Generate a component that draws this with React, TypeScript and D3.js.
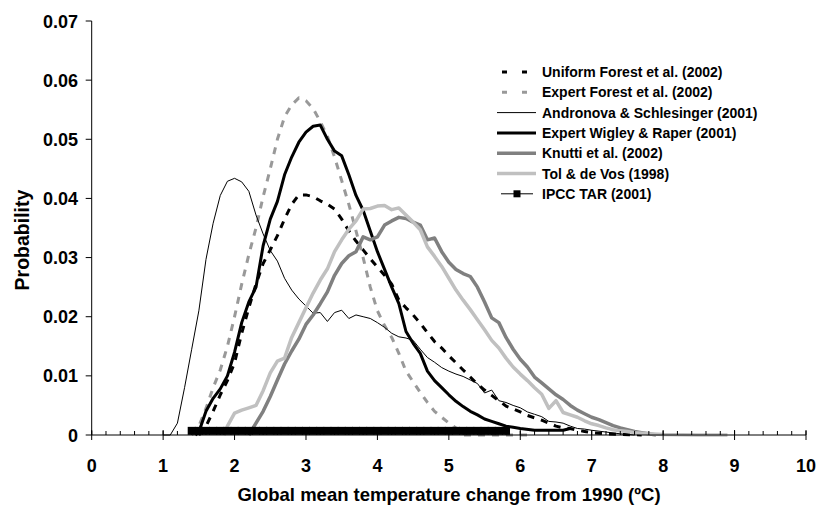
import React, { useRef, useEffect } from 'react';
import * as d3 from 'd3';

// [temperature change (ºC), probability]
const uniformForest = [
  [1.5, 0], [1.6, 0.0015], [1.7, 0.004], [1.8, 0.0068], [1.9, 0.0092], [2.0, 0.0122], [2.1, 0.0172],
  [2.2, 0.0215], [2.3, 0.0255], [2.4, 0.029], [2.5, 0.0313], [2.6, 0.0337], [2.7, 0.0365], [2.8, 0.039],
  [2.9, 0.0406], [3.0, 0.0406], [3.1, 0.0403], [3.2, 0.0396], [3.3, 0.039], [3.4, 0.0382], [3.5, 0.0365],
  [3.6, 0.0345], [3.7, 0.0328], [3.8, 0.0313], [3.9, 0.0298], [4.0, 0.0284], [4.1, 0.027], [4.2, 0.0255],
  [4.3, 0.0228], [4.4, 0.0215], [4.5, 0.0203], [4.6, 0.0189], [4.7, 0.0173], [4.8, 0.0158], [4.9, 0.0147],
  [5.0, 0.0134], [5.1, 0.0122], [5.2, 0.011], [5.3, 0.0098], [5.4, 0.0086], [5.5, 0.0076], [5.6, 0.0067],
  [5.7, 0.0058], [5.8, 0.0049], [5.9, 0.0044], [6.0, 0.0039], [6.1, 0.0033], [6.2, 0.0029], [6.3, 0.0025],
  [6.4, 0.002], [6.5, 0.0015], [6.6, 0.0012], [6.7, 0.0011], [6.8, 0.0008], [6.9, 0.0006], [7.0, 0.0004],
  [7.2, 0.0002], [7.4, 0.0001], [7.7, 0]
];

const expertForest = [
  [1.4, 0], [1.5, 0.0015], [1.6, 0.0045], [1.7, 0.008], [1.8, 0.011], [1.9, 0.015], [2.0, 0.02],
  [2.1, 0.0255], [2.2, 0.0305], [2.3, 0.035], [2.4, 0.0403], [2.5, 0.045], [2.6, 0.05], [2.7, 0.0538],
  [2.8, 0.0558], [2.9, 0.057], [3.0, 0.0565], [3.1, 0.0552], [3.2, 0.053], [3.3, 0.0505], [3.4, 0.047],
  [3.5, 0.043], [3.6, 0.039], [3.7, 0.0345], [3.8, 0.03], [3.9, 0.025], [4.0, 0.021], [4.1, 0.0185],
  [4.2, 0.0165], [4.3, 0.0138], [4.4, 0.0108], [4.5, 0.009], [4.6, 0.0072], [4.7, 0.0055], [4.8, 0.004],
  [4.9, 0.003], [5.0, 0.002], [5.1, 0.0012], [5.2, 0], [6.1, 0]
];

const andronova = [
  [1.0, 0], [1.1, 0], [1.2, 0.002], [1.3, 0.008], [1.4, 0.0145], [1.5, 0.021], [1.6, 0.0297], [1.7, 0.0358],
  [1.8, 0.0405], [1.9, 0.0429], [2.0, 0.0434], [2.1, 0.0428], [2.2, 0.0412], [2.3, 0.0372], [2.4, 0.034],
  [2.5, 0.0312], [2.6, 0.0294], [2.7, 0.0265], [2.8, 0.0245], [2.9, 0.023], [3.0, 0.0218], [3.1, 0.0206],
  [3.2, 0.0207], [3.3, 0.0192], [3.4, 0.0207], [3.5, 0.0211], [3.6, 0.0197], [3.7, 0.0203], [3.8, 0.02],
  [3.9, 0.0197], [4.0, 0.019], [4.1, 0.0182], [4.2, 0.0172], [4.3, 0.0166], [4.4, 0.0164], [4.5, 0.016],
  [4.6, 0.0145], [4.7, 0.0131], [4.8, 0.0123], [4.9, 0.0114], [5.0, 0.0108], [5.1, 0.0103], [5.2, 0.0099],
  [5.3, 0.0093], [5.4, 0.0087], [5.5, 0.0071], [5.6, 0.0076], [5.7, 0.0058], [5.8, 0.0055], [5.9, 0.005],
  [6.0, 0.0046], [6.1, 0.0039], [6.2, 0.0035], [6.3, 0.0031], [6.4, 0.0023], [6.5, 0.0022], [6.6, 0.002],
  [6.7, 0.0015], [6.8, 0.0011], [6.9, 0.001], [7.0, 0.0008], [7.2, 0.0005], [7.4, 0.0002], [7.6, 0]
];

const wigleyRaper = [
  [1.45, 0], [1.5, 0.0005], [1.6, 0.004], [1.7, 0.0062], [1.8, 0.0078], [1.9, 0.01], [2.0, 0.014],
  [2.1, 0.019], [2.2, 0.0225], [2.3, 0.025], [2.4, 0.032], [2.5, 0.0365], [2.6, 0.0395], [2.7, 0.044],
  [2.8, 0.047], [2.9, 0.0495], [3.0, 0.0512], [3.1, 0.0522], [3.2, 0.0524], [3.3, 0.05], [3.4, 0.048],
  [3.5, 0.0472], [3.6, 0.044], [3.7, 0.0405], [3.8, 0.038], [3.9, 0.0345], [4.0, 0.031], [4.1, 0.028],
  [4.2, 0.025], [4.3, 0.0222], [4.4, 0.0175], [4.5, 0.0155], [4.6, 0.0138], [4.7, 0.0108], [4.8, 0.0092],
  [4.9, 0.008], [5.0, 0.0068], [5.1, 0.0057], [5.2, 0.0048], [5.3, 0.004], [5.4, 0.0034], [5.5, 0.0027],
  [5.6, 0.0023], [5.7, 0.0019], [5.8, 0.0015], [5.9, 0.0013], [6.0, 0.0011], [6.2, 0.0008], [6.4, 0.0008],
  [6.6, 0.0008], [6.7, 0.0011]
];

const knutti = [
  [2.2, 0], [2.3, 0.002], [2.4, 0.004], [2.5, 0.0065], [2.6, 0.0093], [2.7, 0.012], [2.8, 0.0142],
  [2.9, 0.0162], [3.0, 0.0187], [3.1, 0.0203], [3.2, 0.0222], [3.3, 0.0242], [3.4, 0.027], [3.5, 0.029],
  [3.6, 0.0303], [3.7, 0.031], [3.8, 0.0335], [3.9, 0.033], [4.0, 0.0335], [4.1, 0.0355], [4.2, 0.0362],
  [4.3, 0.0368], [4.4, 0.0366], [4.5, 0.036], [4.6, 0.0355], [4.7, 0.033], [4.8, 0.0333], [4.9, 0.031],
  [5.0, 0.0292], [5.1, 0.028], [5.2, 0.0273], [5.3, 0.0268], [5.4, 0.025], [5.5, 0.0225], [5.6, 0.0198],
  [5.7, 0.019], [5.8, 0.0165], [5.9, 0.0145], [6.0, 0.0128], [6.1, 0.0115], [6.2, 0.0098], [6.3, 0.0088],
  [6.4, 0.0078], [6.5, 0.0068], [6.6, 0.006], [6.7, 0.005], [6.8, 0.0042], [6.9, 0.0036], [7.0, 0.003],
  [7.1, 0.0026], [7.2, 0.0021], [7.3, 0.0016], [7.4, 0.0012], [7.5, 0.0009], [7.6, 0.0006], [7.7, 0.0004],
  [7.8, 0.0002], [7.9, 0]
];

const tolDeVos = [
  [1.85, 0], [1.9, 0.0015], [2.0, 0.0037], [2.1, 0.0042], [2.2, 0.0046], [2.3, 0.005], [2.4, 0.0075],
  [2.5, 0.0105], [2.6, 0.0125], [2.7, 0.013], [2.8, 0.0165], [2.9, 0.019], [3.0, 0.0215], [3.1, 0.024],
  [3.2, 0.0262], [3.3, 0.0281], [3.4, 0.031], [3.5, 0.033], [3.6, 0.0348], [3.7, 0.0362], [3.8, 0.0382],
  [3.9, 0.0383], [4.0, 0.0387], [4.1, 0.0388], [4.2, 0.0381], [4.3, 0.0384], [4.4, 0.0372], [4.5, 0.036],
  [4.6, 0.0347], [4.7, 0.0318], [4.8, 0.0302], [4.9, 0.0285], [5.0, 0.0265], [5.1, 0.0245], [5.2, 0.0228],
  [5.3, 0.0212], [5.4, 0.0195], [5.5, 0.0178], [5.6, 0.016], [5.7, 0.0147], [5.8, 0.013], [5.9, 0.0115],
  [6.0, 0.0103], [6.1, 0.0092], [6.2, 0.008], [6.3, 0.0069], [6.4, 0.0045], [6.5, 0.0058], [6.6, 0.0038],
  [6.7, 0.0034], [6.8, 0.003], [6.9, 0.0024], [7.0, 0.0019], [7.1, 0.0016], [7.2, 0.0012], [7.3, 0.0009],
  [7.4, 0.0007], [7.5, 0.0006], [7.6, 0.0004], [7.8, 0.0002], [8.0, 0.0001], [8.5, 0], [8.9, 0]
];

const ipccT = [
  1.4, 1.5, 1.6, 1.7, 1.8, 1.9, 2.0, 2.1, 2.2, 2.3, 2.4, 2.5, 2.6, 2.7, 2.8, 2.9, 3.0, 3.1, 3.2, 3.3,
  3.4, 3.5, 3.6, 3.7, 3.8, 3.9, 4.0, 4.1, 4.2, 4.3, 4.4, 4.5, 4.6, 4.7, 4.8, 4.9, 5.0, 5.1, 5.2, 5.3,
  5.4, 5.5, 5.6, 5.7, 5.8
];
const ipccP = 0.0007;

const xTickLabels = ['0', '1', '2', '3', '4', '5', '6', '7', '8', '9', '10'];
const yTickLabels = ['0', '0.01', '0.02', '0.03', '0.04', '0.05', '0.06', '0.07'];

const series = [
  { name: 'Uniform Forest et al. (2002)', data: uniformForest, color: '#000', width: 3, dash: '7,7' },
  { name: 'Expert Forest et al. (2002)', data: expertForest, color: '#999', width: 3, dash: '7,7' },
  { name: 'Andronova & Schlesinger (2001)', data: andronova, color: '#000', width: 1, dash: null },
  { name: 'Expert Wigley & Raper (2001)', data: wigleyRaper, color: '#000', width: 3, dash: null },
  { name: 'Knutti et al. (2002)', data: knutti, color: '#808080', width: 3.5, dash: null },
  { name: 'Tol & de Vos (1998)', data: tolDeVos, color: '#c0c0c0', width: 3.5, dash: null }
];

const FONT = '"Liberation Sans", Arial, sans-serif';

const App = () => {
  const ref = useRef(null);
  const width = 818;
  const height = 505;

  useEffect(() => {
    const x = d3.scaleLinear().domain([0, 10]).range([91.7, 806]);
    const y = d3.scaleLinear().domain([0, 0.07]).range([435, 21]);

    const svg = d3.select(ref.current);
    svg.selectAll('*').remove();

    const line = d3.line().x(d => x(d[0])).y(d => y(d[1]));

    // series, drawn in legend order
    series.forEach(s => {
      svg.append('path')
        .datum(s.data)
        .attr('fill', 'none')
        .attr('stroke', s.color)
        .attr('stroke-width', s.width)
        .attr('stroke-linejoin', 'round')
        .attr('stroke-dasharray', s.dash)
        .attr('d', line);
    });

    // axes
    const axis = svg.append('g').attr('stroke', '#000').attr('stroke-width', 1);
    axis.append('line').attr('x1', x(0)).attr('x2', x(10)).attr('y1', y(0)).attr('y2', y(0));
    axis.append('line').attr('x1', x(0)).attr('x2', x(0)).attr('y1', y(0)).attr('y2', y(0.07));
    axis.selectAll('.minor').data(x.ticks(50)).join('line')
      .attr('x1', d => x(d)).attr('x2', d => x(d))
      .attr('y1', y(0) - 4).attr('y2', y(0));
    axis.selectAll('.major').data(x.ticks(10)).join('line')
      .attr('x1', d => x(d)).attr('x2', d => x(d))
      .attr('y1', y(0) - 5).attr('y2', y(0) + 5);
    axis.selectAll('.ytick').data(y.ticks(7)).join('line')
      .attr('x1', x(0) - 6).attr('x2', x(0))
      .attr('y1', d => y(d)).attr('y2', d => y(d));

    // IPCC TAR range
    svg.append('path')
      .datum(ipccT)
      .attr('fill', 'none').attr('stroke', '#000').attr('stroke-width', 1)
      .attr('d', d3.line().x(d => x(d)).y(() => y(ipccP)));
    svg.append('g').selectAll('rect').data(ipccT).join('rect')
      .attr('x', d => x(d) - 4).attr('y', y(ipccP) - 4)
      .attr('width', 8).attr('height', 8).attr('fill', '#000');

    // tick labels
    svg.append('g').selectAll('text').data(x.ticks(10)).join('text')
      .attr('x', d => x(d)).attr('y', 472)
      .attr('text-anchor', 'middle')
      .attr('font-family', FONT).attr('font-weight', 'bold').attr('font-size', 18)
      .text((d, i) => xTickLabels[i]);
    svg.append('g').selectAll('text').data(y.ticks(7)).join('text')
      .attr('x', 78).attr('y', d => y(d) + 6.5)
      .attr('text-anchor', 'end')
      .attr('font-family', FONT).attr('font-weight', 'bold').attr('font-size', 18)
      .text((d, i) => yTickLabels[i]);

    // axis titles
    svg.append('text')
      .attr('x', 449).attr('y', 501)
      .attr('text-anchor', 'middle')
      .attr('font-family', FONT).attr('font-weight', 'bold').attr('font-size', 18.5)
      .text('Global mean temperature change from 1990 (ºC)');
    svg.append('text')
      .attr('transform', 'translate(29,240) rotate(-90)')
      .attr('text-anchor', 'middle')
      .attr('font-family', FONT).attr('font-weight', 'bold').attr('font-size', 19.5)
      .text('Probability');

    // legend
    const legend = svg.append('g').attr('transform', 'translate(497,72)');
    const rowH = 20.3;
    series.forEach((s, i) => {
      const g = legend.append('g').attr('transform', `translate(0,${i * rowH})`);
      g.append('line')
        .attr('x1', 0).attr('x2', 39).attr('y1', 0).attr('y2', 0)
        .attr('stroke', s.color)
        .attr('stroke-width', s.width)
        .attr('stroke-dasharray', s.dash ? '5,15' : null)
        .attr('stroke-dashoffset', s.dash ? 15 : null);
      g.append('text')
        .attr('x', 45).attr('y', 5)
        .attr('font-family', FONT).attr('font-weight', 'bold').attr('font-size', 14)
        .text(s.name);
    });
    const ipccRow = legend.append('g').attr('transform', `translate(0,${series.length * rowH})`);
    ipccRow.append('line').attr('x1', 4).attr('x2', 36).attr('y1', 0).attr('y2', 0)
      .attr('stroke', '#000').attr('stroke-width', 1);
    ipccRow.append('rect').attr('x', 16.5).attr('y', -3.5).attr('width', 7).attr('height', 7).attr('fill', '#000');
    ipccRow.append('text')
      .attr('x', 45).attr('y', 5)
      .attr('font-family', FONT).attr('font-weight', 'bold').attr('font-size', 14)
      .text('IPCC TAR (2001)');
  }, []);

  return (
    <svg ref={ref} width={width} height={height}
      style={{ position: 'absolute', left: 0, top: 0, background: '#fff' }} />
  );
};

export default App;
